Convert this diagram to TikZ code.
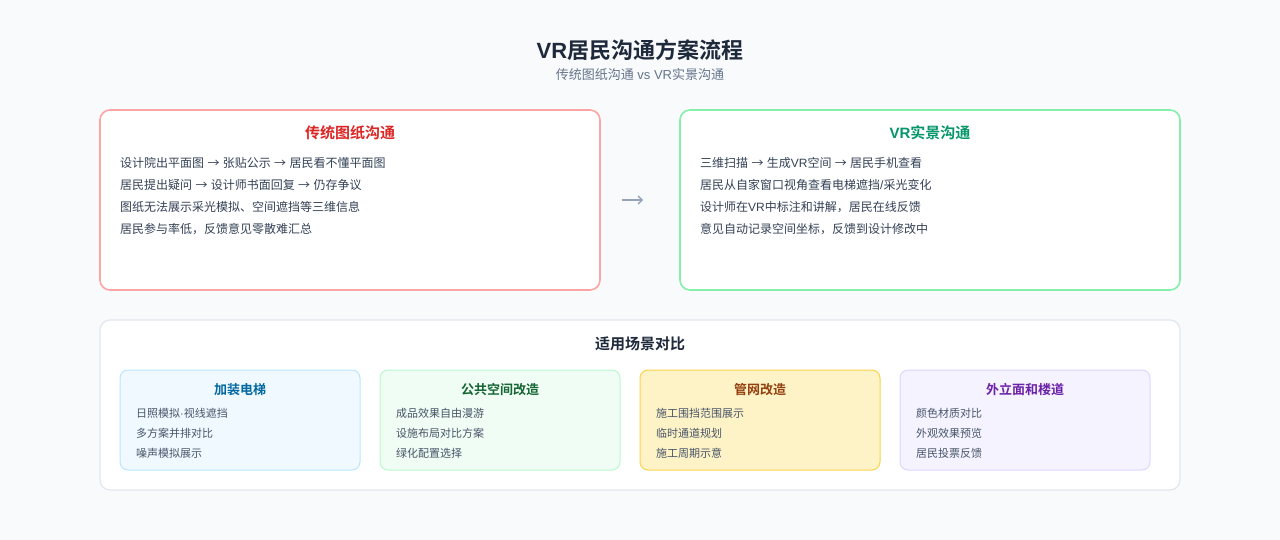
\documentclass[tikz,border=0pt]{standalone}
\usepackage{fontspec}
\setmainfont{Noto Sans CJK SC}[BoldFont={Noto Sans CJK SC Bold}]
\newfontfamily\lat{Liberation Sans}
\newcommand{\ar}{{\lat\ }→{\lat\ }}
\usetikzlibrary{arrows.meta}
\definecolor{bg}{HTML}{F8FAFC}
\definecolor{titlec}{HTML}{1E293B}
\definecolor{subc}{HTML}{64748B}
\definecolor{linec}{HTML}{334155}
\definecolor{itemc}{HTML}{475569}
\definecolor{redb}{HTML}{FCA5A5}
\definecolor{redt}{HTML}{DC2626}
\definecolor{greenb}{HTML}{86EFAC}
\definecolor{greent}{HTML}{059669}
\definecolor{grayb}{HTML}{E2E8F0}
\definecolor{arrowc}{HTML}{94A3B8}
\definecolor{bluef}{HTML}{F0F9FF}
\definecolor{blueb}{HTML}{BAE6FD}
\definecolor{bluet}{HTML}{0369A1}
\definecolor{gfill}{HTML}{F0FDF4}
\definecolor{gbord}{HTML}{BBF7D0}
\definecolor{gtext}{HTML}{166534}
\definecolor{yfill}{HTML}{FEF3C7}
\definecolor{ybord}{HTML}{FCD34D}
\definecolor{ytext}{HTML}{92400E}
\definecolor{pfill}{HTML}{F5F3FF}
\definecolor{pbord}{HTML}{DDD6FE}
\definecolor{ptext}{HTML}{6B21A8}
\begin{document}
\begin{tikzpicture}[x=1pt,y=-1pt,
  panel/.style={draw, line width=1.6pt, fill=white, rounded corners=10pt, minimum width=500pt, minimum height=180pt, inner sep=0pt},
  ptitle/.style={font=\bfseries\fontsize{15}{18}\selectfont, inner sep=0pt},
  pline/.style={anchor=west, inner sep=0pt, text=linec, font=\fontsize{12}{14}\selectfont},
  card/.style={draw, line width=1pt, rounded corners=8pt, minimum height=100pt, inner sep=0pt},
  ctitle/.style={font=\bfseries\fontsize{13}{16}\selectfont, inner sep=0pt},
  citem/.style={anchor=west, inner sep=0pt, text=itemc, font=\fontsize{11}{13}\selectfont}
]
\path[fill=bg, use as bounding box] (0,0) rectangle (1280,540);

\node[inner sep=0pt, text=titlec, font=\bfseries\fontsize{22}{26}\selectfont] (title) at (640,50) {{\lat VR}居民沟通方案流程};
\node[inner sep=0pt, text=subc, font=\fontsize{13}{15}\selectfont] (subtitle) at (640,75) {传统图纸沟通{\lat\ vs VR}实景沟通};

% left panel
\node[panel, draw=redb] (trad) at (350,200) {};
\node[ptitle, text=redt] (tradt) at (350,133) {传统图纸沟通};
\node[pline] (trad1) at (120,163) {设计院出平面图\ar 张贴公示\ar 居民看不懂平面图};
\node[pline] (trad2) at (120,185) {居民提出疑问\ar 设计师书面回复\ar 仍存争议};
\node[pline] (trad3) at (120,207) {图纸无法展示采光模拟、空间遮挡等三维信息};
\node[pline] (trad4) at (120,229) {居民参与率低，反馈意见零散难汇总};

% right panel
\node[panel, draw=greenb] (vr) at (930,200) {};
\node[ptitle, text=greent] (vrt) at (930,133) {{\lat VR}实景沟通};
\node[pline] (vr1) at (700,163) {三维扫描\ar 生成{\lat VR}空间\ar 居民手机查看};
\node[pline] (vr2) at (700,185) {居民从自家窗口视角查看电梯遮挡{\lat /}采光变化};
\node[pline] (vr3) at (700,207) {设计师在{\lat VR}中标注和讲解，居民在线反馈};
\node[pline] (vr4) at (700,229) {意见自动记录空间坐标，反馈到设计修改中};

\draw[arrowc, line width=1.4pt, -{Straight Barb[length=4pt,width=8pt]}, shorten <=21pt, shorten >=36pt] (trad) -- (vr);

% bottom panel
\node[draw=grayb, line width=1.3pt, fill=white, rounded corners=10pt, minimum width=1080pt, minimum height=170pt, inner sep=0pt] (scen) at (640,405) {};
\node[ptitle, text=titlec] (scent) at (640,344) {适用场景对比};

\node[card, draw=blueb, fill=bluef, minimum width=240pt] (c1) at (240,420) {};
\node[ctitle, text=bluet] (c1t) at (240,390) {加装电梯};
\node[citem] (c1a) at (136,413) {日照模拟{\lat ·}视线遮挡};
\node[citem] (c1b) at (136,433) {多方案并排对比};
\node[citem] (c1c) at (136,453) {噪声模拟展示};

\node[card, draw=gbord, fill=gfill, minimum width=240pt] (c2) at (500,420) {};
\node[ctitle, text=gtext] (c2t) at (500,390) {公共空间改造};
\node[citem] (c2a) at (396,413) {成品效果自由漫游};
\node[citem] (c2b) at (396,433) {设施布局对比方案};
\node[citem] (c2c) at (396,453) {绿化配置选择};

\node[card, draw=ybord, fill=yfill, minimum width=240pt] (c3) at (760,420) {};
\node[ctitle, text=ytext] (c3t) at (760,390) {管网改造};
\node[citem] (c3a) at (656,413) {施工围挡范围展示};
\node[citem] (c3b) at (656,433) {临时通道规划};
\node[citem] (c3c) at (656,453) {施工周期示意};

\node[card, draw=pbord, fill=pfill, minimum width=250pt] (c4) at (1025,420) {};
\node[ctitle, text=ptext] (c4t) at (1025,390) {外立面和楼道};
\node[citem] (c4a) at (916,413) {颜色材质对比};
\node[citem] (c4b) at (916,433) {外观效果预览};
\node[citem] (c4c) at (916,453) {居民投票反馈};
\end{tikzpicture}
\end{document}
